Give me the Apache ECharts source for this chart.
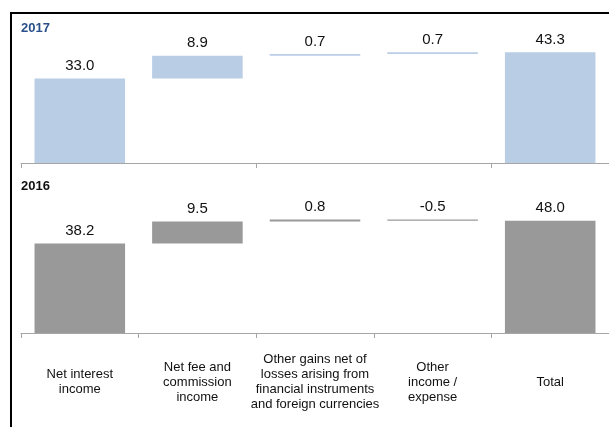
<!DOCTYPE html>
<html>
<head>
<meta charset="utf-8">
<script src="https://cdn.jsdelivr.net/npm/echarts@6/dist/echarts.min.js"></script>
<style>
  html, body { margin: 0; padding: 0; background: #fff; }
  #chart { width: 609px; height: 427px; }
</style>
</head>
<body>
<div id="chart"></div>
<script>
// Operating income bridge, 2017 vs 2016
const categories = [
  'Net interest\nincome',
  'Net fee and\ncommission\nincome',
  'Other gains net of\nlosses arising from\nfinancial instruments\nand foreign currencies',
  'Other\nincome /\nexpense',
  'Total'
];
const values2017 = [33.0, 8.9, 0.7, 0.7, 43.3];
const values2016 = [38.2, 9.5, 0.8, -0.5, 48.0];
const isTotal = [false, false, false, false, true];

// Invisible offsets that lift each step bar onto the running total
function runningBase(vals) {
  let run = 0;
  return vals.map((v, i) => {
    if (isTotal[i]) return 0;
    const b = Math.round(run * 10) / 10;
    run += v;
    return b;
  });
}

const FONT = 'Liberation Sans, Arial, sans-serif';
const axisGrey = '#a6a6a6';

function catAxis(gridIndex, showLabels) {
  return {
    type: 'category',
    gridIndex,
    data: categories,
    axisLine: { lineStyle: { color: axisGrey, width: 1 } },
    axisTick: { show: true, alignWithLabel: false, length: 5, lineStyle: { color: axisGrey } },
    axisLabel: showLabels ? {
      interval: 0,
      margin: 49,
      verticalAlign: 'middle',
      fontFamily: FONT,
      fontSize: 13,
      lineHeight: 15,
      color: '#111'
    } : { show: false }
  };
}

function valAxis(gridIndex) {
  return {
    type: 'value', gridIndex, min: 0, max: 50, show: false,
    splitLine: { show: false }
  };
}

function seriesPair(idx, vals, color) {
  return [
    {
      type: 'bar', xAxisIndex: idx, yAxisIndex: idx, stack: 's' + idx,
      stackStrategy: 'all', silent: true, barWidth: '77%',
      itemStyle: { color: 'transparent' },
      data: runningBase(vals)
    },
    {
      type: 'bar', xAxisIndex: idx, yAxisIndex: idx, stack: 's' + idx,
      stackStrategy: 'all', barWidth: '77%',
      itemStyle: { color },
      label: {
        show: true, position: 'top', distance: 5,
        fontFamily: FONT, fontSize: 15, color: '#111',
        formatter: p => p.value.toFixed(1)
      },
      data: vals
    }
  ];
}

const chart = echarts.init(document.getElementById('chart'), null, { renderer: 'canvas' });
chart.setOption({
  animation: false,
  backgroundColor: '#fff',
  title: [
    { text: '2017', left: 21, top: 22, padding: 0,
      textStyle: { fontFamily: FONT, fontSize: 13, fontWeight: 'bold', color: '#2a5189' } },
    { text: '2016', left: 21, top: 180, padding: 0,
      textStyle: { fontFamily: FONT, fontSize: 13, fontWeight: 'bold', color: '#111' } }
  ],
  grid: [
    { left: 21, width: 590, top: 35, height: 128 },
    { left: 21, width: 590, top: 216, height: 117 }
  ],
  xAxis: [catAxis(0, false), catAxis(1, true)],
  yAxis: [valAxis(0), valAxis(1)],
  series: [
    ...seriesPair(0, values2017, '#b9cde5'),
    ...seriesPair(1, values2016, '#999999')
  ],
  graphic: [{
    type: 'rect', silent: true, z: 100,
    shape: { x: 11, y: 13, width: 620, height: 440 },
    style: { fill: 'none', stroke: '#000', lineWidth: 2 }
  }]
});
</script>
</body>
</html>
